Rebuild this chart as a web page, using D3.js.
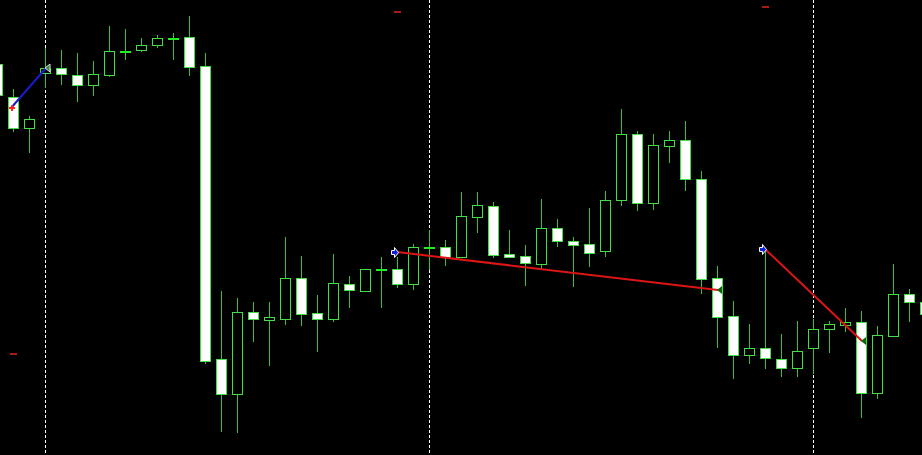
<!DOCTYPE html>
<html>
<head>
<meta charset="utf-8">
<script src="https://cdn.jsdelivr.net/npm/d3@7"></script>
<style>
  html, body { margin: 0; padding: 0; background: #000; }
  svg { display: block; }
</style>
</head>
<body>
<div id="chart"></div>
<script>
// H1 bars, bar index 0 is partly off the left edge
var firstHour = 21;
var opens  = [1.09472,1.09406,1.09344,1.09454,1.09464,1.09450,1.09430,1.09450,1.09498,1.09500,1.09510,1.09524,1.09526,1.09468,1.08882,1.08812,1.08976,1.08960,1.08962,1.09044,1.08974,1.08962,1.09032,1.09018,1.09062,1.09062,1.09032,1.09106,1.09106,1.09086,1.09166,1.09188,1.09092,1.09088,1.09072,1.09144,1.09118,1.09112,1.09098,1.09200,1.09332,1.09194,1.09308,1.09320,1.09242,1.09044,1.08968,1.08890,1.08904,1.08882,1.08864,1.08904,1.08942,1.08950,1.08956,1.08814,1.08928,1.09012,1.08996];
var highs  = [1.09484,1.09422,1.09368,1.09504,1.09500,1.09494,1.09478,1.09548,1.09542,1.09524,1.09530,1.09534,1.09568,1.09494,1.09018,1.09004,1.08996,1.08996,1.09126,1.09088,1.09010,1.09092,1.09048,1.09062,1.09086,1.09086,1.09112,1.09140,1.09120,1.09216,1.09216,1.09196,1.09140,1.09110,1.09202,1.09162,1.09126,1.09184,1.09218,1.09382,1.09338,1.09332,1.09338,1.09358,1.09258,1.09068,1.08998,1.08952,1.09102,1.08932,1.08958,1.08962,1.08958,1.08984,1.08978,1.08948,1.09072,1.09022,1.09010];
var lows   = [1.09400,1.09336,1.09294,1.09424,1.09430,1.09396,1.09408,1.09446,1.09480,1.09496,1.09504,1.09480,1.09448,1.08872,1.08736,1.08734,1.08916,1.08868,1.08950,1.08948,1.08896,1.08956,1.08984,1.09016,1.08984,1.09024,1.09020,1.09060,1.09068,1.09084,1.09134,1.09084,1.09086,1.09028,1.09062,1.09106,1.09026,1.09066,1.09086,1.09188,1.09178,1.09180,1.09274,1.09218,1.09012,1.08904,1.08842,1.08872,1.08862,1.08846,1.08846,1.08852,1.08894,1.08936,1.08764,1.08802,1.08926,1.08956,1.08940];
var closes = [1.09410,1.09344,1.09362,1.09464,1.09452,1.09430,1.09452,1.09498,1.09498,1.09510,1.09524,1.09524,1.09466,1.08878,1.08812,1.08976,1.08962,1.08966,1.09044,1.08972,1.08962,1.09034,1.09020,1.09062,1.09062,1.09032,1.09106,1.09106,1.09086,1.09168,1.09190,1.09090,1.09086,1.09074,1.09144,1.09118,1.09110,1.09094,1.09200,1.09332,1.09194,1.09310,1.09320,1.09242,1.09042,1.08966,1.08890,1.08904,1.08884,1.08864,1.08898,1.08942,1.08952,1.08956,1.08814,1.08930,1.09012,1.08996,1.08972];

// closed trades from the history
var tradeType   = ["buy", "sell", "sell"];
var tradeOpenI  = [1, 25, 48];
var tradeOpenP  = [1.09384, 1.09096, 1.09102];
var tradeCloseI = [3, 45, 54];
var tradeCloseP = [1.09464, 1.09020, 1.08918];
var tradeSL     = [1.08892, 1.09576, 1.09586];

var width = 922, height = 455;
var bars = opens.map(function(o, i) {
  return { i: i, o: o, h: highs[i], l: lows[i], c: closes[i] };
});

var svg = d3.select("#chart").append("svg")
  .attr("width", width)
  .attr("height", height)
  .style("background", "#000");

var x = d3.scaleLinear().domain([0, 58]).range([-3, 925]);
var y = d3.scaleLinear().domain([1.08690, 1.09600]).range([height, 0]);

function px(v) { return Math.round(v) + 0.5; }

// period separators at the start of each day
var seps = bars.filter(function(d) { return (firstHour + d.i) % 24 === 0; });
svg.append("g").selectAll("line")
  .data(seps)
  .enter().append("line")
  .attr("x1", function(d) { return px(x(d.i)); })
  .attr("x2", function(d) { return px(x(d.i)); })
  .attr("y1", 0)
  .attr("y2", height)
  .attr("stroke", "#fff")
  .attr("stroke-dasharray", "3,2");

var candles = svg.append("g").selectAll("g")
  .data(bars)
  .enter().append("g");

candles.append("line")
  .attr("x1", function(d) { return px(x(d.i)); })
  .attr("x2", function(d) { return px(x(d.i)); })
  .attr("y1", function(d) { return Math.round(y(d.h)); })
  .attr("y2", function(d) { return Math.round(y(d.l)); })
  .attr("stroke", "#33c433");

candles.append("rect")
  .attr("x", function(d) { return Math.round(x(d.i)) - 5 + 0.5; })
  .attr("width", 10)
  .attr("y", function(d) { return px(y(Math.max(d.o, d.c))); })
  .attr("height", function(d) {
    return Math.max(1, Math.round(y(Math.min(d.o, d.c))) - Math.round(y(Math.max(d.o, d.c))));
  })
  .attr("fill", function(d) { return d.c < d.o ? "#fff" : "#000"; })
  .attr("stroke", function(d) { return d.c === d.o ? "#22ee22" : "#44dd44"; });

// stop loss levels
svg.append("g").selectAll("line")
  .data(tradeSL)
  .enter().append("line")
  .attr("x1", function(d, i) { return Math.round(x(tradeOpenI[i])) - 3; })
  .attr("x2", function(d, i) { return Math.round(x(tradeOpenI[i])) + 4; })
  .attr("y1", function(d) { return Math.round(y(d)); })
  .attr("y2", function(d) { return Math.round(y(d)); })
  .attr("stroke", "#b01818")
  .attr("stroke-width", 2);

// trade lines
svg.append("g").selectAll("line")
  .data(tradeType)
  .enter().append("line")
  .attr("x1", function(d, i) { return x(tradeOpenI[i]) - (d === "buy" ? 2 : 0); })
  .attr("y1", function(d, i) { return y(tradeOpenP[i]); })
  .attr("x2", function(d, i) { return x(tradeCloseI[i]) + 1; })
  .attr("y2", function(d, i) { return y(tradeCloseP[i]); })
  .attr("stroke", function(d) { return d === "buy" ? "#1a1ac8" : "#dd1515"; })
  .attr("stroke-width", 2);

// open markers
tradeType.forEach(function(t, i) {
  var ox = x(tradeOpenI[i]), oy = y(tradeOpenP[i]);
  if (t === "buy") {
    var g = svg.append("g").attr("transform", "translate(" + (ox - 1) + "," + oy + ")");
    g.append("path").attr("d", "M-3,0H3M0,-3V3").attr("stroke", "#ff2020").attr("stroke-width", 2);
  } else {
    svg.append("path")
      .attr("transform", "translate(" + (ox + 0.5) + "," + (oy + 0.5) + ")")
      .attr("d", "M-6,-2H-3V-5L1,0L-3,5V2H-6Z")
      .attr("fill", "#1020e0")
      .attr("stroke", "#fff")
      .attr("stroke-width", 1);
  }
  // close markers
  var cx = x(tradeCloseI[i]) + 1, cy = y(tradeCloseP[i]);
  svg.append("path")
    .attr("transform", "translate(" + cx + "," + cy + ")")
    .attr("d", "M-1,0L4,-4V4Z")
    .attr("fill", t === "buy" ? "#3a8a3a" : "#0c6a0c")
    .attr("stroke", t === "buy" ? "#ddd" : "none")
    .attr("stroke-width", 1);
});
</script>
</body>
</html>
